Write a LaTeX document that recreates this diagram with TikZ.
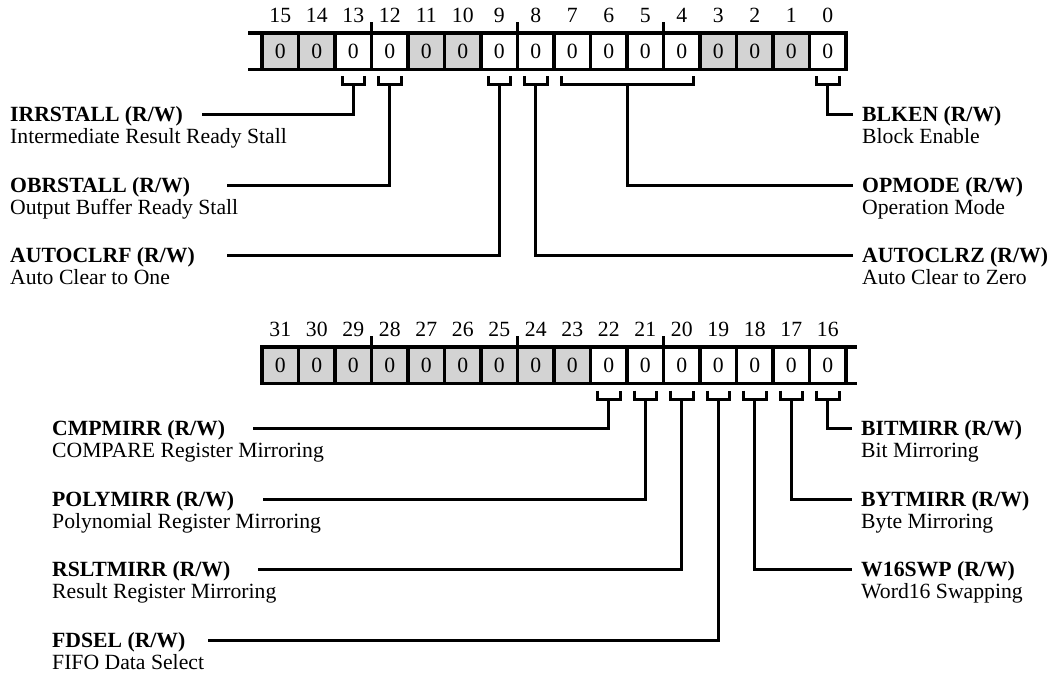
\documentclass[tikz,border=0pt]{standalone}
\usepackage{fontspec}
\setmainfont{Liberation Serif}
\usetikzlibrary{calc}
\newcommand\fsz{\fontsize{21.7}{22}\selectfont}
\definecolor{cellgray}{RGB}{211,211,211}
\begin{document}
\begin{tikzpicture}[x=1pt,y=-1pt,
  cellbox/.style={draw, line width=3.2pt, minimum width=36.5pt, minimum height=36.5pt, inner sep=0pt, outer sep=0pt, font=\fsz},
  graycell/.style={cellbox, fill=cellgray},
  whitecell/.style={cellbox, fill=white},
  frameline/.style={line width=3.2pt},
  tickline/.style={line width=2.4pt},
  brk/.style={line width=3pt},
  lead/.style={line width=3pt},
  bitnum/.style={font=\fsz, inner sep=0pt, anchor=base},
  lbl/.style={font=\fsz, inner sep=0pt, anchor=base west},
  lblb/.style={lbl, font=\fsz\bfseries}]
\useasboundingbox (0,0) rectangle (1050,677);

% ---------------- top register (bits 15..0) ----------------
\draw[frameline] (248,33) -- (262,33);
\draw[frameline] (248,69.5) -- (262,69.5);
\foreach \b in {15,14,11,10,3,2,1} {
  \pgfmathsetmacro\cx{280.25+(15-\b)*36.5}
  \node[graycell] (t\b) at (\cx,51.25) {0};
}
\foreach \b in {13,12,9,8,7,6,5,4,0} {
  \pgfmathsetmacro\cx{280.25+(15-\b)*36.5}
  \node[whitecell] (t\b) at (\cx,51.25) {0};
}
\foreach \b in {15,...,0} {
  \node[bitnum] (tn\b) at ($(t\b.center)+(0,-28.75)$) {\b};
}
\foreach \b in {12,8,4} {
  \draw[tickline] (t\b.north west) -- ++(0,-11);
}

% brackets top
\foreach \b in {13,12,9,8,0} {
  \draw[brk] ($(t\b.south)+(-11.25,7)$) -- ++(0,8.5) -- ++(22.5,0) -- ++(0,-8.5);
  \coordinate (ts\b) at ($(t\b.south)+(0,15.5)$);
}
\draw[brk] ($(t7.south west)+(7,7)$) -- ++(0,8.5) -- ($(t4.south east)+(-7,15.5)$) -- ++(0,-8.5);
\coordinate (ts74) at ($(t7.south west)!0.5!(t4.south east)+(0,15.5)$);

% leader ends top
\coordinate (eirr) at (202,114);
\coordinate (eobr) at (227,185);
\coordinate (eacf) at (227,255);
\coordinate (eblk) at (853,114);
\coordinate (eopm) at (853,185);
\coordinate (eacz) at (853,255);
\draw[lead] (ts13) |- (eirr);
\draw[lead] (ts12) |- (eobr);
\draw[lead] (ts9) |- (eacf);
\draw[lead] (ts0) |- (eblk);
\draw[lead] (ts74) |- (eopm);
\draw[lead] (ts8) |- (eacz);

% labels top
\node[lblb] (lirr) at (10,121.5) {IRRSTALL (R/W)};
\node[lbl] (dirr) at (10,143.5) {Intermediate Result Ready Stall};
\node[lblb] (lobr) at (10,192.5) {OBRSTALL (R/W)};
\node[lbl] (dobr) at (10,214.5) {Output Buffer Ready Stall};
\node[lblb] (lacf) at (10,262.5) {AUTOCLRF (R/W)};
\node[lbl] (dacf) at (10,284.5) {Auto Clear to One};
\node[lblb] (lblk) at (862,121.5) {BLKEN (R/W)};
\node[lbl] (dblk) at (862,143.5) {Block Enable};
\node[lblb] (lopm) at (862,192.5) {OPMODE (R/W)};
\node[lbl] (dopm) at (862,214.5) {Operation Mode};
\node[lblb] (lacz) at (862,262.5) {AUTOCLRZ (R/W)};
\node[lbl] (dacz) at (862,284.5) {Auto Clear to Zero};

% ---------------- bottom register (bits 31..16) ----------------
\draw[frameline] (846,347) -- (857,347);
\draw[frameline] (846,383.5) -- (857,383.5);
\foreach \b in {31,30,29,28,27,26,25,24,23} {
  \pgfmathsetmacro\cx{280.25+(31-\b)*36.5}
  \node[graycell] (u\b) at (\cx,365.25) {0};
}
\foreach \b in {22,21,20,19,18,17,16} {
  \pgfmathsetmacro\cx{280.25+(31-\b)*36.5}
  \node[whitecell] (u\b) at (\cx,365.25) {0};
}
\foreach \b in {31,...,16} {
  \node[bitnum] (un\b) at ($(u\b.center)+(0,-28.75)$) {\b};
}
\foreach \b in {28,24,20} {
  \draw[tickline] (u\b.north west) -- ++(0,-11);
}
\foreach \b in {22,21,20,19,18,17,16} {
  \draw[brk] ($(u\b.south)+(-11.25,7)$) -- ++(0,8.5) -- ++(22.5,0) -- ++(0,-8.5);
  \coordinate (us\b) at ($(u\b.south)+(0,15.5)$);
}
\coordinate (ecmp) at (253,428);
\coordinate (epol) at (263,499);
\coordinate (ersl) at (258,569);
\coordinate (efds) at (208,640);
\coordinate (ebit) at (852,428);
\coordinate (ebyt) at (852,499);
\coordinate (ew16) at (852,569);
\draw[lead] (us22) |- (ecmp);
\draw[lead] (us21) |- (epol);
\draw[lead] (us20) |- (ersl);
\draw[lead] (us19) |- (efds);
\draw[lead] (us16) |- (ebit);
\draw[lead] (us17) |- (ebyt);
\draw[lead] (us18) |- (ew16);

\node[lblb] (lcmp) at (52,435.5) {CMPMIRR (R/W)};
\node[lbl] (dcmp) at (52,457.5) {COMPARE Register Mirroring};
\node[lblb] (lpol) at (52,506.5) {POLYMIRR (R/W)};
\node[lbl] (dpol) at (52,528.5) {Polynomial Register Mirroring};
\node[lblb] (lrsl) at (52,576.5) {RSLTMIRR (R/W)};
\node[lbl] (drsl) at (52,598.5) {Result Register Mirroring};
\node[lblb] (lfds) at (52,647.5) {FDSEL (R/W)};
\node[lbl] (dfds) at (52,669.5) {FIFO Data Select};
\node[lblb] (lbit) at (861,435.5) {BITMIRR (R/W)};
\node[lbl] (dbit) at (861,457.5) {Bit Mirroring};
\node[lblb] (lbyt) at (861,506.5) {BYTMIRR (R/W)};
\node[lbl] (dbyt) at (861,528.5) {Byte Mirroring};
\node[lblb] (lw16) at (861,576.5) {W16SWP (R/W)};
\node[lbl] (dw16) at (861,598.5) {Word16 Swapping};
\end{tikzpicture}
\end{document}
